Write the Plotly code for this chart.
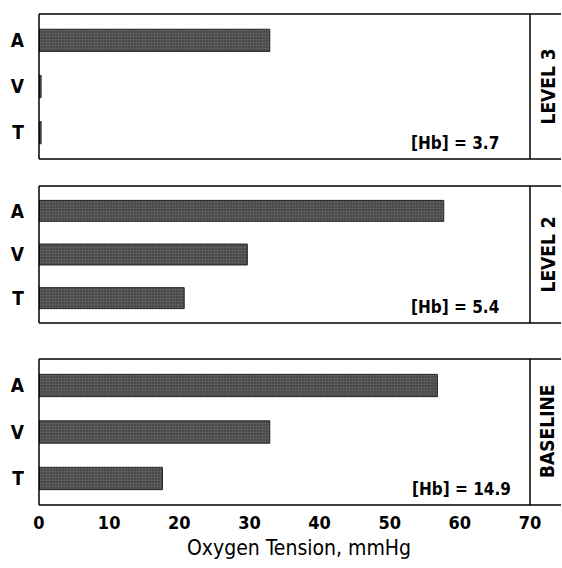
import plotly.graph_objects as go

categories = ["A", "V", "T"]
panels = ["LEVEL 3", "LEVEL 2", "BASELINE"]
hb_labels = ["[Hb] = 3.7", "[Hb] = 5.4", "[Hb] = 14.9"]
level3_values = [32.9, 0.3, 0.3]
level2_values = [57.7, 29.7, 20.7]
baseline_values = [56.8, 32.9, 17.6]
x_ticks = [0, 10, 20, 30, 40, 50, 60, 70]
x_title = "Oxygen Tension, mmHg"

W, H = 562, 568
series = [level3_values, level2_values, baseline_values]
# panel pixel extents (top, bottom)
pix = [(14, 159), (186, 323), (359, 505)]
xl, xr, xs = 39, 530, 561

font_fam = "DejaVu Sans Condensed, Liberation Sans Narrow, Liberation Sans, Arial"

fig = go.Figure()
for i, (vals, (t, b)) in enumerate(zip(series, pix)):
    n = i + 1
    sfx = str(n) if n > 1 else ""
    fig.add_trace(go.Bar(
        x=vals, y=categories, orientation="h",
        xaxis="x" + sfx, yaxis="y" + sfx,
        width=0.48,
        marker=dict(color="#5c5c5c", line=dict(color="#222222", width=1),
                    pattern=dict(shape=".", fgcolor="#8a8a8a", bgcolor="#474747", size=3, solidity=0.35)),
        showlegend=False,
    ))
    dom_y = [1 - b / H, 1 - t / H]
    xa = dict(domain=[xl / W, xr / W], range=[0, 70], showgrid=False, zeroline=False,
              showline=False, tickvals=x_ticks, ticks="", automargin=False,
              showticklabels=(n == 3), ticklabelstandoff=5,
              tickfont=dict(family=font_fam, size=18, color="black", weight="bold"),
              anchor="y" + sfx)
    if n > 1:
        xa["matches"] = "x"
    ya = dict(domain=dom_y, range=[-0.57, 2.57], categoryorder="array",
              categoryarray=["T", "V", "A"], showgrid=False, zeroline=False,
              showline=False, ticks="", automargin=False, ticklabelstandoff=14,
              tickfont=dict(family=font_fam, size=19, color="black", weight="bold"),
              anchor="x" + sfx)
    fig.layout["xaxis" + sfx] = xa
    fig.layout["yaxis" + sfx] = ya

    # frame
    for (x0, x1, y0, y1) in [(xl, xs, t, t), (xl, xs, b, b), (xl, xl, t, b), (xr, xr, t, b)]:
        fig.add_shape(type="line", xref="paper", yref="paper", x0=x0 / W, x1=x1 / W,
                      y0=1 - y0 / H, y1=1 - y1 / H, line=dict(color="black", width=1.5))
    # strip label
    fig.add_annotation(xref="paper", yref="paper", x=547 / W, y=1 - (t + b) / 2 / H,
                       xanchor="center", yanchor="middle",
                       text=panels[i], textangle=-90, showarrow=False,
                       font=dict(family=font_fam, size=19, color="black", weight="bold"))
    # Hb label
    fig.add_annotation(xref="paper", yref="paper", x=(513 if n == 3 else 501) / W,
                       y=1 - (b - 16) / H, xanchor="right", yanchor="middle",
                       text=hb_labels[i], showarrow=False,
                       font=dict(family=font_fam, size=17, color="black", weight="bold"))

# x-axis title
fig.add_annotation(xref="paper", yref="paper", x=299 / W, y=1 - 548 / H,
                   xanchor="center", yanchor="middle", text=x_title, showarrow=False,
                   font=dict(family=font_fam, size=21, color="black"))

fig.update_layout(width=W, height=H, margin=dict(l=0, r=0, t=0, b=0),
                  plot_bgcolor="white", paper_bgcolor="white", bargap=0.5)
fig.write_html("out.html")
